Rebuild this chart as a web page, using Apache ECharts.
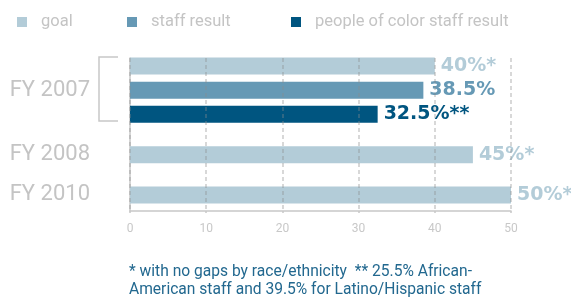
<!DOCTYPE html>
<html>
<head>
<meta charset="utf-8">
<script src="https://cdn.jsdelivr.net/npm/echarts@6/dist/echarts.min.js"></script>
<style>
html,body{margin:0;padding:0;background:#fff;}
#chart{width:571px;height:304px;}
</style>
</head>
<body>
<div id="chart"></div>
<script>
// ---- data ----
const fiscalYears = ['FY 2007', 'FY 2008', 'FY 2010'];
const seriesNames = ['goal', 'staff result', 'people of color staff result'];
const goalValues = [40, 45, 50];          // FY 2007, FY 2008, FY 2010
const goalLabels = ['40%*', '45%*', '50%*'];
const staffValues = [38.5];               // FY 2007
const staffLabels = ['38.5%'];
const pocValues = [32.5];                 // FY 2007
const pocLabels = ['32.5%**'];
const xTicks = [0, 10, 20, 30, 40, 50];
const footnote = '* with no gaps by race/ethnicity  ** 25.5% African-\nAmerican staff and 39.5% for Latino/Hispanic staff';

// ---- layout (row slots on the category axis) ----
const ROWS = 20;
const goalSlots = [1, 12, 17];
const staffSlots = [4];
const pocSlots = [7];
const yearLabelSlots = [4, 12, 17];

const colors = ['#b3ccd8', '#6699b5', '#005580'];

function sparse(values, slots) {
  const arr = new Array(ROWS).fill('-');
  values.forEach((v, i) => { arr[slots[i]] = v; });
  return arr;
}
function sparseLabels(labels, slots) {
  const arr = new Array(ROWS).fill('');
  labels.forEach((v, i) => { arr[slots[i]] = v; });
  return arr;
}
const rowCats = [];
for (let i = 0; i < ROWS; i++) rowCats.push('r' + i);
const rowNames = sparseLabels(fiscalYears, yearLabelSlots);

const goalLab = sparseLabels(goalLabels, goalSlots);
const staffLab = sparseLabels(staffLabels, staffSlots);
const pocLab = sparseLabels(pocLabels, pocSlots);

function barSeries(idx, data, labArr) {
  return {
    name: seriesNames[idx],
    type: 'bar',
    data: data,
    barWidth: 17,
    barGap: '-100%',
    itemStyle: { color: colors[idx] },
    z: 1,
    label: {
      show: true,
      position: 'right',
      distance: 6,
      formatter: p => labArr[p.dataIndex],
      color: colors[idx],
      fontFamily: 'DejaVu Sans',
      fontWeight: 'bold',
      fontSize: 19
    }
  };
}

function legendFor(idx, left) {
  return {
    left: left, top: 7,
    selectedMode: false,
    icon: 'rect',
    itemWidth: 10, itemHeight: 10,
    data: [seriesNames[idx]],
    textStyle: {
      color: '#c4c4c4', fontFamily: 'Roboto', fontSize: 16.5,
      lineHeight: 20, padding: [0, 0, 0, 9]
    }
  };
}

const chart = echarts.init(document.getElementById('chart'), null, { renderer: 'canvas' });
chart.setOption({
  animation: false,
  backgroundColor: '#fff',
  legend: [legendFor(0, 12), legendFor(1, 122), legendFor(2, 286)],
  grid: { left: 130, right: 60, top: 58, bottom: 93, containLabel: false },
  xAxis: {
    type: 'value',
    min: xTicks[0], max: xTicks[xTicks.length - 1], interval: xTicks[1] - xTicks[0],
    z: 3,
    axisLine: { show: true, lineStyle: { color: '#c8c8c8', width: 1.5 } },
    axisTick: { show: true, length: 2, lineStyle: { color: '#c8c8c8', width: 1.5 } },
    axisLabel: { color: '#c8c8c8', fontFamily: 'Roboto', fontSize: 12, margin: 12,
      formatter: v => xTicks.indexOf(v) >= 0 ? String(v) : '' },
    splitLine: { show: true, lineStyle: { color: 'rgba(140,140,140,0.45)', width: 1.5, type: [4, 3] } }
  },
  yAxis: {
    type: 'category',
    data: rowCats,
    inverse: true,
    boundaryGap: false,
    axisLine: { show: true, lineStyle: { color: '#c8c8c8', width: 1.5 } },
    axisTick: { show: false },
    splitLine: { show: false },
    axisLabel: {
      interval: 0, margin: 40,
      color: '#c4c4c4', fontFamily: 'Roboto', fontSize: 22,
      formatter: (v, i) => rowNames[i]
    }
  },
  series: [
    barSeries(0, sparse(goalValues, goalSlots), goalLab),
    barSeries(1, sparse(staffValues, staffSlots), staffLab),
    barSeries(2, sparse(pocValues, pocSlots), pocLab)
  ],
  graphic: [
    {
      type: 'polyline', z: 10,
      shape: { points: [[118, 57], [99, 57], [99, 121], [118, 121]] },
      style: { stroke: '#c8c8c8', lineWidth: 1.5, fill: null }
    },
    {
      type: 'text', left: 129, top: 263, z: 10,
      style: {
        text: footnote,
        fill: '#22688f',
        font: '15.6px Roboto',
        lineHeight: 18
      }
    }
  ]
});
</script>
</body>
</html>
